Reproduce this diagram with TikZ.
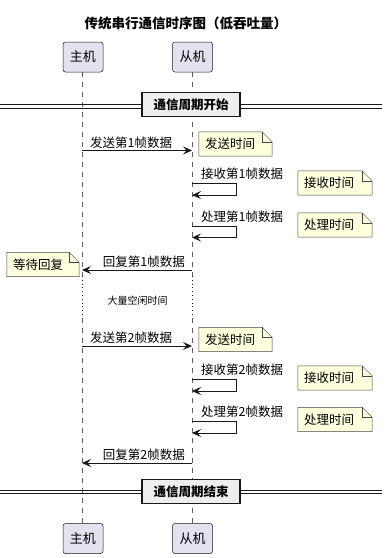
\documentclass[tikz,border=0pt]{standalone}
\usepackage{fontspec}
\setmainfont{Noto Sans CJK SC}
\usepackage{xcolor}
\usetikzlibrary{arrows.meta, positioning, backgrounds, calc}
\definecolor{cpart}{HTML}{E2E2F0}
\definecolor{cnote}{HTML}{FEFFDD}
\definecolor{cdiv}{HTML}{EEEEEE}
\definecolor{cline}{HTML}{181818}

\begin{document}
\begin{tikzpicture}[
    x=1pt, y=-1pt,
    >={Stealth[length=9pt, width=8pt, inset=3.5pt]},
    part/.style={
        rectangle, rounded corners=2.5pt, draw=cline, line width=0.5pt,
        fill=cpart, minimum width=40pt, minimum height=30pt,
        inner sep=0pt, font=\fontsize{13}{15}\selectfont
    },
    note/.style={
        rectangle, inner xsep=6pt, inner ysep=0pt, minimum height=24pt,
        align=left, font=\fontsize{12.5}{14}\selectfont
    },
    divbox/.style={
        rectangle, draw=cline, line width=1.5pt, fill=cdiv,
        minimum width=98pt, minimum height=24pt, inner sep=0pt,
        font=\bfseries\fontsize{12.5}{14}\selectfont
    },
    msg/.style={->, line width=0.9pt, draw=cline},
    mlabel/.style={font=\fontsize{12.5}{14}\selectfont, inner sep=0pt},
    life/.style={draw=cline!70, line width=0.5pt, dash pattern=on 5pt off 5pt},
    idle/.style={draw=cline, line width=0.6pt, dash pattern=on 0.8pt off 3pt},
    divline/.style={draw=cline, line width=0.8pt},
]
\useasboundingbox (0,0) rectangle (387,558);

% =====================================================================
% Title and participants (top and bottom copies)
% =====================================================================
\node[font=\bfseries\fontsize{13.5}{15}\selectfont] (title) at (186,23)
    {传统串行通信时序图（低吞吐量）};

\node[part] (hostTop)  at (83,57)    {主机};
\node[part] (slaveTop) at (192.5,57) {从机};
\node[part] (hostBot)  at (83,538.5)    {主机};
\node[part] (slaveBot) at (192.5,538.5) {从机};

% --- lifelines: dashed, dotted through the idle gap ------------------
\coordinate (hIdleA) at (82,276);  \coordinate (hIdleB) at (82,318);
\coordinate (sIdleA) at (192,276); \coordinate (sIdleB) at (192,318);

\begin{scope}[on background layer]
\draw[life] (hostTop.south -| hIdleA) -- (hIdleA);
\draw[idle] (hIdleA) -- (hIdleB);
\draw[life] (hIdleB) -- (hostBot.north -| hIdleB);
\draw[life] (slaveTop.south -| sIdleA) -- (sIdleA);
\draw[idle] (sIdleA) -- (sIdleB);
\draw[life] (sIdleB) -- (slaveBot.north -| sIdleB);
\end{scope}

% =====================================================================
% Dividers
% =====================================================================
\draw[divline] (0,104.5) -- (382,104.5);
\draw[divline] (0,108)   -- (382,108);
\node[divbox] (divStart) at (191,104.5) {通信周期开始};

\draw[divline] (0,490) -- (382,490);
\draw[divline] (0,493.5) -- (382,493.5);
\node[divbox] (divEnd) at (191,491.5) {通信周期结束};

% =====================================================================
% Frame 1
% =====================================================================
\coordinate (h1) at (82,150.5);  \coordinate (s1) at (192,150.5);
\draw[msg] (h1) -- (s1);
\node[mlabel, anchor=base west] (m1) at (90,147) {发送第1帧数据};

\coordinate (r1a) at (192,183);  \coordinate (r1b) at (192,195);
\draw[msg] (r1a) -- ++(44,0) |- (r1b);
\node[mlabel, anchor=base west] (m2) at (201,178) {接收第1帧数据};

\coordinate (p1a) at (192,226);  \coordinate (p1b) at (192,237.5);
\draw[msg] (p1a) -- ++(44,0) |- (p1b);
\node[mlabel, anchor=base west] (m3) at (201,221) {处理第1帧数据};

\coordinate (s4) at (192,270);  \coordinate (h4) at (82,270);
\draw[msg] (s4) -- (h4);
\node[mlabel, anchor=base east] (m4) at (185,266) {回复第1帧数据};

% --- idle gap --------------------------------------------------------
\node[font=\fontsize{10}{12}\selectfont] (idleTxt) at (137.5,301) {大量空闲时间};

% =====================================================================
% Frame 2
% =====================================================================
\coordinate (h5) at (82,346);  \coordinate (s5) at (192,346);
\draw[msg] (h5) -- (s5);
\node[mlabel, anchor=base west] (m5) at (90,342.5) {发送第2帧数据};

\coordinate (r2a) at (192,379);  \coordinate (r2b) at (192,391);
\draw[msg] (r2a) -- ++(44,0) |- (r2b);
\node[mlabel, anchor=base west] (m6) at (201,374) {接收第2帧数据};

\coordinate (p2a) at (192,421);  \coordinate (p2b) at (192,433);
\draw[msg] (p2a) -- ++(44,0) |- (p2b);
\node[mlabel, anchor=base west] (m7) at (201,416) {处理第2帧数据};

\coordinate (s8) at (192,463);  \coordinate (h8) at (82,463);
\draw[msg] (s8) -- (h8);
\node[mlabel, anchor=base east] (m8) at (185,459) {回复第2帧数据};

% =====================================================================
% Notes (text first, dog-ear outline behind)
% =====================================================================
\node[note, text width=61pt] (n1) at (235.5,144)   {发送时间};
\node[note, text width=62pt] (n2) at (335,183)     {接收时间};
\node[note, text width=62pt] (n3) at (335,225)     {处理时间};
\node[note, text width=60pt] (n4) at (43,264.5)    {等待回复};
\node[note, text width=61pt] (n5) at (235.5,339.5) {发送时间};
\node[note, text width=62pt] (n6) at (335,378)     {接收时间};
\node[note, text width=62pt] (n7) at (335,419.5)   {处理时间};

\begin{scope}[on background layer]
\foreach \n in {n1,n2,n3,n4,n5,n6,n7} {
    \filldraw[fill=cnote, draw=cline!80, line width=0.5pt]
        (\n.north west) -- ([xshift=-10pt]\n.north east)
        -- ([yshift=-10pt]\n.north east) -- (\n.south east)
        -- (\n.south west) -- cycle;
    \draw[cline!80, line width=0.5pt]
        ([xshift=-10pt]\n.north east) -- ++(0,-10pt) -- ++(10pt,0);
}
\end{scope}

\end{tikzpicture}
\end{document}
